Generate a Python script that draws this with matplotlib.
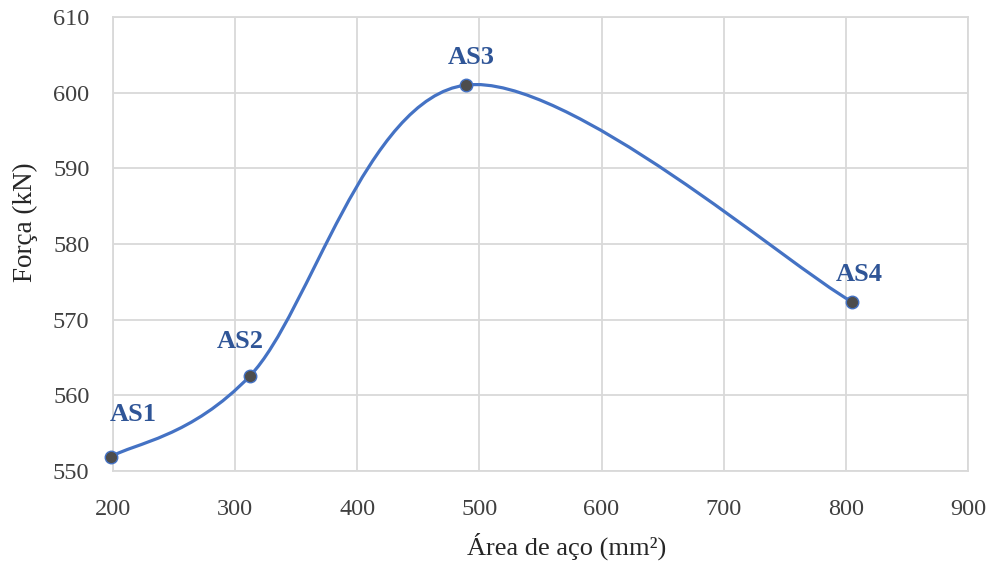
import numpy as np
import matplotlib
matplotlib.use("Agg")
import matplotlib.pyplot as plt
from matplotlib.path import Path
import matplotlib.patches as patches

# data
area = [198.5, 312.3, 489.0, 804.7]
force = [551.9, 562.6, 601.0, 572.4]
names = ["AS1", "AS2", "AS3", "AS4"]
xticks = [200, 300, 400, 500, 600, 700, 800, 900]
yticks = [550, 560, 570, 580, 590, 600, 610]

# label offsets in pixels (x, y) from each point
label_offsets = [(22, 42), (-10, 34), (5, 28), (8, 27)]

plt.rcParams["font.family"] = ["Liberation Serif", "DejaVu Serif"]

LINE = "#4472C4"
GRID = "#D9D9D9"
TEXT = "#404040"
LABEL = "#2F5597"


def smooth_path(xs, ys):
    """Excel-like smoothed line: Bezier segments with Catmull-Rom tangents."""
    pts = np.column_stack([xs, ys])
    n = len(pts)
    verts = [pts[0]]
    codes = [Path.MOVETO]
    for i in range(n - 1):
        p0 = pts[i - 1] if i > 0 else pts[i]
        p1 = pts[i]
        p2 = pts[i + 1]
        p3 = pts[i + 2] if i + 2 < n else pts[i + 1]
        c1 = p1 + (p2 - p0) / 6.0
        c2 = p2 - (p3 - p1) / 6.0
        verts += [c1, c2, p2]
        codes += [Path.CURVE4] * 3
    return Path(verts, codes)


fig = plt.figure(figsize=(9.87, 5.62), dpi=100)
ax = fig.add_axes([0.1145, 0.1619, 0.8662, 0.8079])

ax.set_xlim(200, 900)
ax.set_ylim(550, 610)
ax.set_xticks(xticks)
ax.set_yticks(yticks)
ax.grid(True, color=GRID, linewidth=1.3)
ax.set_axisbelow(True)
for s in ax.spines.values():
    s.set_color(GRID)
    s.set_linewidth(1.3)
ax.tick_params(length=0, labelsize=17.5, colors=TEXT)
ax.tick_params(axis="x", pad=20)
ax.tick_params(axis="y", pad=17)

curve = patches.PathPatch(smooth_path(area, force), facecolor="none",
                          edgecolor=LINE, linewidth=2.3, zorder=3,
                          capstyle="round")
ax.add_patch(curve)
ax.plot(area, force, linestyle="none", marker="o", markersize=9,
        markerfacecolor="#4D4D4D", markeredgecolor=LINE,
        markeredgewidth=1.0, zorder=4, clip_on=False)

for x, y, name, off in zip(area, force, names, label_offsets):
    ax.annotate(name, (x, y), xytext=off, textcoords="offset pixels",
                ha="center", va="center", fontsize=19, fontweight="bold",
                color=LABEL, annotation_clip=False)

ax.set_xlabel("Área de aço (mm²)", fontsize=19, color="#262626",
              va="center", ha="center")
ax.set_ylabel("Força (kN)", fontsize=19.5, color="#262626",
              va="center", ha="center")
ax.xaxis.set_label_coords(0.53, -0.166)
ax.yaxis.set_label_coords(-0.103, 0.548)

fig.savefig("out.png", dpi=100)
